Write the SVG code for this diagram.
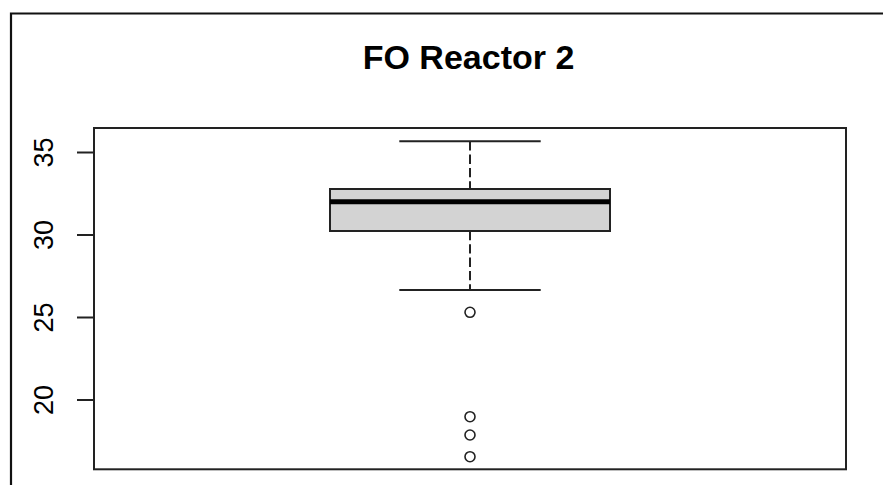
<svg xmlns="http://www.w3.org/2000/svg" width="883" height="485" viewBox="0 0 883 485">
<style>
.ln{stroke:#222;stroke-width:2;fill:none}
.tk{font-family:"Liberation Sans",Arial,sans-serif;font-size:27px;fill:#000;text-anchor:middle}
.out{fill:#fff;stroke:#222;stroke-width:1.6}
</style>
<rect x="0" y="0" width="883" height="485" fill="#fff"/>
<g id="frame">
<path d="M11,485 V13.5 H883" stroke="#111" stroke-width="2.2" fill="none"/>
</g>
<text id="title" x="468.5" y="69" font-family="Liberation Sans,Arial,sans-serif" font-weight="bold" font-size="34" text-anchor="middle">FO Reactor 2</text>
<g id="plot-area">
<rect x="94" y="128" width="752" height="341.3" class="ln"/>
</g>
<g id="axis">
<path class="ln" d="M77,152.5H94M77,235H94M77,317.5H94M77,400H94"/>
<text class="tk" transform="translate(53,152.5) rotate(-90)">35</text>
<text class="tk" transform="translate(53,235) rotate(-90)">30</text>
<text class="tk" transform="translate(53,317.5) rotate(-90)">25</text>
<text class="tk" transform="translate(53,400) rotate(-90)">20</text>
</g>
<g id="connectors">
<path d="M470,141.3V189M470,231V290" stroke="#222" stroke-width="2" stroke-dasharray="9.3 4"/>
<path class="ln" d="M399.3,141.3H540.7M399.3,290H540.7"/>
</g>
<g id="box">
<rect x="330" y="189" width="280" height="42" fill="#d3d3d3" stroke="#222" stroke-width="2"/>
<line x1="330" y1="201.7" x2="610" y2="201.7" stroke="#000" stroke-width="5"/>
</g>
<g id="outliers">
<circle class="out" cx="470" cy="312.3" r="5"/>
<circle class="out" cx="470" cy="416.7" r="5"/>
<circle class="out" cx="470" cy="435" r="5"/>
<circle class="out" cx="470" cy="456.7" r="5"/>
</g>
</svg>
